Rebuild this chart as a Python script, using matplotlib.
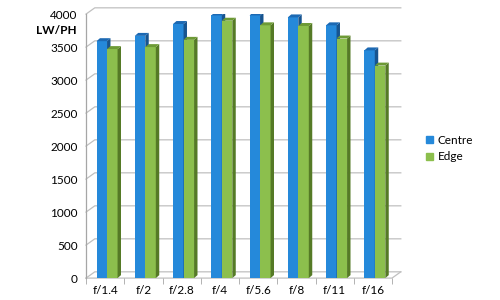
import matplotlib
matplotlib.use("Agg")
import matplotlib.pyplot as plt
from matplotlib.patches import Patch

# data
apertures = ["f/1.4", "f/2", "f/2.8", "f/4", "f/5.6", "f/8", "f/11", "f/16"]
centre = [3590, 3670, 3850, 3980, 3980, 3950, 3830, 3450]
edge = [3470, 3500, 3610, 3900, 3830, 3820, 3630, 3220]

plt.rcParams['font.family'] = ['Lato', 'DejaVu Sans']

fig = plt.figure(figsize=(5, 3), dpi=100)
ax = fig.add_axes([0.172, 0.073, 0.612, 0.88])
ax.set_xlim(-0.5, len(apertures) - 0.5)
ax.set_ylim(0, 4000)

# fake 3D depth (data units)
side = 0.09
lift = 45
back_dx = 0.23
back_dy = 95

grid_col = "#c0c0c0"
axis_col = "#a6a6a6"

# back wall gridlines with short diagonals on the side wall
x0, x1 = -0.5, len(apertures) - 0.5
for v in range(0, 4001, 500):
    ax.plot([x0, x0 + back_dx, x1 + back_dx], [v, v + back_dy, v + back_dy],
            color=grid_col, lw=0.9, clip_on=False, zorder=1)
# floor front edge and right diagonal
ax.plot([x0, x1, x1 + back_dx], [0, 0, back_dy], color=grid_col, lw=0.9,
        clip_on=False, zorder=1)
ax.plot([x0, x0], [0, 4000], color=axis_col, lw=0.9, clip_on=False, zorder=1)


def bar3d(xl, w, v, front, top, dark):
    ax.fill([xl, xl + w, xl + w, xl], [0, 0, v, v], color=front, lw=0, zorder=3)
    ax.fill([xl + w, xl + w + side, xl + w + side, xl + w],
            [0, lift, v + lift, v], color=dark, lw=0, zorder=3)
    ax.fill([xl, xl + side, xl + w + side, xl + w],
            [v, v + lift, v + lift, v], color=top, lw=0, zorder=3)


w = 0.275
for i in range(len(apertures)):
    bar3d(i - 0.225, w, centre[i], "#2589da", "#1c69b3", "#17548f")
    bar3d(i - 0.225 + w, w, edge[i], "#8cbf4d", "#6d9a35", "#557a26")

ax.set_xticks(range(len(apertures)))
ax.set_xticklabels(apertures)
ax.set_xticks([i - 0.5 for i in range(len(apertures) + 1)], minor=True)
ax.tick_params(axis='x', which='major', length=0, pad=5, labelsize=8.5)
ax.tick_params(axis='x', which='minor', length=4, color=axis_col)
ax.set_yticks(range(0, 4001, 500))
ax.tick_params(axis='y', length=0, pad=6, labelsize=8.5)
for s in ax.spines.values():
    s.set_visible(False)

fig.text(0.112, 0.897, "LW/PH", fontsize=8.5, fontweight='bold', ha='center', va='center')

handles = [Patch(color="#2589da", label="Centre"), Patch(color="#8cbf4d", label="Edge")]
fig.legend(handles=handles, loc='center left', bbox_to_anchor=(0.83, 0.505),
           frameon=False, fontsize=8.5, handlelength=0.6, handleheight=0.6,
           handletextpad=0.4, labelspacing=0.5)

fig.savefig("out.png", dpi=100)
